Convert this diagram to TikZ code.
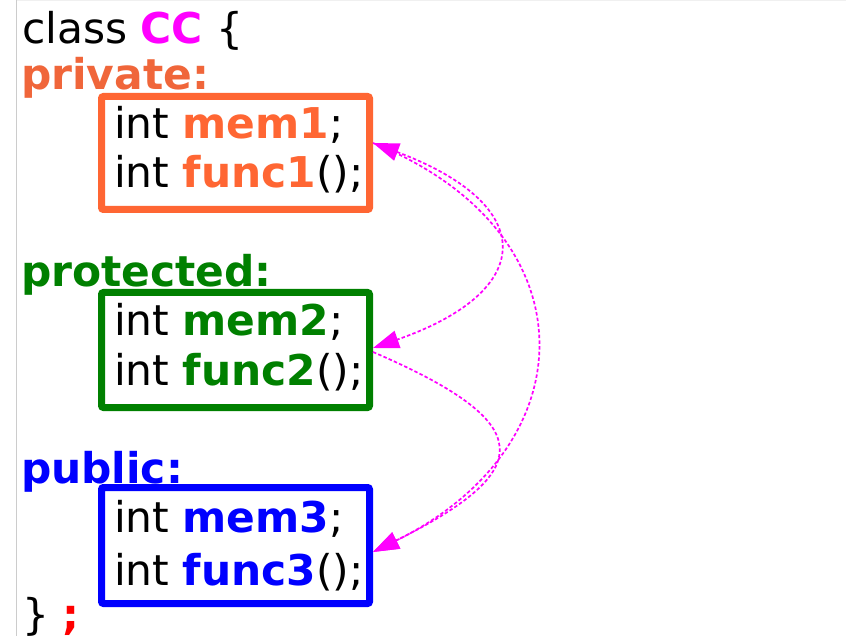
\documentclass[tikz,border=0pt]{standalone}
\usepackage{fontspec}
\setmainfont{DejaVu Sans}
\usetikzlibrary{arrows.meta}
\definecolor{privc}{RGB}{255,102,51}
\definecolor{privt}{RGB}{240,102,58}
\definecolor{protc}{RGB}{0,128,0}
\definecolor{pubc}{RGB}{0,0,255}
\definecolor{semic}{RGB}{255,0,0}
\definecolor{magc}{RGB}{255,0,255}
\begin{document}
\begin{tikzpicture}[x=1pt,y=-1pt,
  txt/.style={font=\fontsize{42.4}{50}\selectfont, inner sep=0pt, outer sep=0pt, anchor=base west},
  box/.style={draw, line width=7pt, rounded corners=2pt, minimum width=268pt, inner sep=0pt},
  link/.style={magc, line width=1.7pt, dash pattern=on 3.5pt off 2.2pt},
]
\useasboundingbox (0,0) rectangle (846,636);
\fill[white] (0,0) rectangle (846,636);
\draw[gray!12, line width=1.5pt] (16,0.75) -- (846,0.75);
\draw[gray!40, line width=1pt] (16.5,0) -- (16.5,636);

% boxes
\node[box, draw=privc, minimum height=113pt] (b1) at (235.5,153) {};
\node[box, draw=protc, minimum height=115pt] (b2) at (235.5,350) {};
\node[box, draw=pubc,  minimum height=116pt] (b3) at (235.5,545.5) {};

% header and labels
\node[txt] (cls) at (22,43.5) {class \textcolor{magc}{\textbf{CC}} \{};
\node[txt, text=privt] (lpriv) at (21,90) {\textbf{private:}};
\node[txt, text=protc] (lprot) at (21,287) {\textbf{protected:}};
\node[txt, text=pubc] (lpub) at (21,483) {\textbf{public:}};
\node[txt] (close) at (22,629) {\} \textcolor{semic}{\textbf{;}}};

% members
\node[txt] (m1) at (114,139) {int \textcolor{privc}{\textbf{mem1}};};
\node[txt] (f1) at (114,188) {int \textcolor{privc}{\textbf{func1}}();};
\node[txt] (m2) at (114,335) {int \textcolor{protc}{\textbf{mem2}};};
\node[txt] (f2) at (114,385) {int \textcolor{protc}{\textbf{func2}}();};
\node[txt] (m3) at (114,532) {int \textcolor{pubc}{\textbf{mem3}};};
\node[txt] (f3) at (114,585) {int \textcolor{pubc}{\textbf{func3}}();};

% connectors
\draw[link, {Triangle[length=26pt,width=18pt]}-{Triangle[length=26pt,width=18pt]}]
  ([yshift=10pt]b1.east) .. controls (539,205) and (537,291) .. ([yshift=2pt]b2.east);
\draw[link, -{Triangle[length=26pt,width=18pt]}]
  ([yshift=10pt]b1.east) .. controls (592,231) and (590,445) .. ([yshift=-6.5pt]b3.east);
\draw[link, -{Triangle[length=26pt,width=18pt]}]
  ([yshift=-2pt]b2.east) .. controls (538,423) and (538,470) .. ([yshift=-6.5pt]b3.east);
\end{tikzpicture}
\end{document}
